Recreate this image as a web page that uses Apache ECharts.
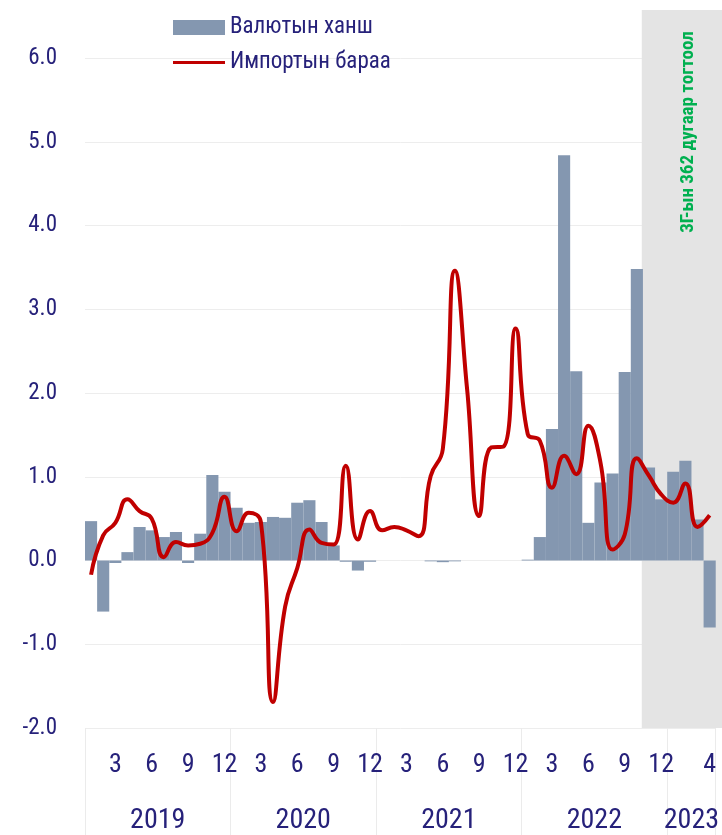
<!DOCTYPE html>
<html>
<head>
<meta charset="utf-8">
<script src="https://cdn.jsdelivr.net/npm/echarts@6/dist/echarts.min.js"></script>
<style>
html,body{margin:0;padding:0;background:#fff;}
#chart{width:722px;height:835px;}
</style>
</head>
<body>
<div id="chart"></div>
<script>
var categories = [
  '2019-01','2019-02','2019-03','2019-04','2019-05','2019-06','2019-07','2019-08','2019-09','2019-10','2019-11','2019-12',
  '2020-01','2020-02','2020-03','2020-04','2020-05','2020-06','2020-07','2020-08','2020-09','2020-10','2020-11','2020-12',
  '2021-01','2021-02','2021-03','2021-04','2021-05','2021-06','2021-07','2021-08','2021-09','2021-10','2021-11','2021-12',
  '2022-01','2022-02','2022-03','2022-04','2022-05','2022-06','2022-07','2022-08','2022-09','2022-10','2022-11','2022-12',
  '2023-01','2023-02','2023-03','2023-04'
];
var monthTickLabels = [
  '', '', '3', '', '', '6', '', '', '9', '', '', '12',
  '', '', '3', '', '', '6', '', '', '9', '', '', '12',
  '', '', '3', '', '', '6', '', '', '9', '', '', '12',
  '', '', '3', '', '', '6', '', '', '9', '', '', '12',
  '', '', '', '4'
];
var currencyRate = [
  0.47, -0.61, -0.03, 0.10, 0.40, 0.36, 0.28, 0.34, -0.03, 0.32, 1.02, 0.82,
  0.63, 0.45, 0.46, 0.52, 0.51, 0.69, 0.72, 0.46, 0.18, -0.015, -0.12, -0.015,
  0.00, 0.00, 0.00, 0.00, -0.01, -0.02, -0.01, 0.00, 0.00, 0.00, 0.00, 0.00,
  0.01, 0.28, 1.57, 4.84, 2.26, 0.45, 0.93, 1.04, 2.25, 3.48, 1.11, 0.73,
  1.06, 1.19, 0.49, -0.80
];
var importGoods = [
  -0.17, 0.30, 0.45, 0.73, 0.59, 0.50, 0.04, 0.22, 0.18, 0.20, 0.33, 0.76,
  0.35, 0.57, 0.46, -1.69, -0.55, -0.09, 0.37, 0.21, 0.19, 1.13, 0.25, 0.59,
  0.36, 0.40, 0.36, 0.29, 1.01, 1.33, 3.46, 2.05, 0.53, 1.35, 1.36, 2.77,
  1.51, 1.43, 0.87, 1.25, 1.03, 1.61, 1.17, 0.13, 0.31, 1.22, 1.01, 0.79,
  0.69, 0.92, 0.40, 0.54
];
var yearLabels = ['2019', '2020', '2021', '2022', '2023'];
var seriesNames = ['Валютын ханш', 'Импортын бараа'];
var noteText = '3Г-ын 362 дугаар тогтоол';
var shadeStart = 45.6;   // month position where the shaded period begins
var yTicks = {min: -2, max: 6, interval: 1};

var FONT = "'Liberation Sans Narrow', 'Roboto Condensed', 'Arial Narrow', Roboto, sans-serif";
var TXT = '#26217A';

function monthOf(c){ return parseInt(c.split('-')[1], 10); }
function yearOf(c){ return c.split('-')[0]; }

// middle index of each year group (label placed there, shifted half a category)
var yearMid = {};
yearLabels.forEach(function(y){
  var idx = [];
  categories.forEach(function(c, i){ if (yearOf(c) === y) idx.push(i); });
  yearMid[idx[0] + Math.floor(idx.length / 2) - 1] = y;
});

var chart = echarts.init(document.getElementById('chart'), null, {renderer: 'canvas'});
var option = {
  animation: false,
  textStyle: {fontFamily: FONT},
  grid: [
    {left: 85, right: 2, top: 58, bottom: 106, containLabel: false},
    {left: 85, right: 0, top: 10, bottom: 107, containLabel: false}
  ],
  legend: {
    orient: 'vertical', left: 173, top: 16, padding: 0,
    itemWidth: 52, itemHeight: 15, itemGap: 12,
    textStyle: {fontSize: 23, color: TXT, fontFamily: FONT},
    data: [
      {name: seriesNames[0], icon: 'rect'},
      {name: seriesNames[1], icon: 'path://M0,0 L0.1,0 Z M0,6 L52,6 L52,9 L0,9 Z M0,15 L0.1,15 Z'}
    ]
  },
  xAxis: [
    {
      type: 'category', gridIndex: 0, data: categories, position: 'bottom',
      axisLine: {show: false}, axisTick: {show: false},
      axisLabel: {
        interval: function(i){ return monthTickLabels[i] !== ''; },
        formatter: function(v, i){ return monthTickLabels[i]; },
        showMaxLabel: true,
        fontSize: 26, color: TXT, margin: 24, fontFamily: FONT
      }
    },
    {
      type: 'category', gridIndex: 0, data: categories, position: 'bottom',
      axisLine: {show: false},
      axisTick: {show: true, length: 110, lineStyle: {color: '#EBEBEB', width: 1},
        interval: function(i, v){ return monthOf(v) === 1; }},
      axisLabel: {
        interval: function(i){ return yearMid[i] !== undefined; },
        formatter: function(v, i){ return yearMid[i] || ''; },
        fontSize: 28, color: TXT, margin: 79, padding: [0, 0, 0, 12], fontFamily: FONT
      }
    },
    {type: 'value', gridIndex: 1, min: 0, max: 52.17, show: false}
  ],
  yAxis: [
    {
      type: 'value', gridIndex: 0, min: yTicks.min, max: yTicks.max, interval: yTicks.interval,
      axisLine: {show: false}, axisTick: {show: false},
      splitLine: {lineStyle: {color: '#EDEDED', width: 1}},
      axisLabel: {formatter: function(v){ return v.toFixed(1); }, fontSize: 23, color: TXT, margin: 28, fontFamily: FONT}
    },
    {type: 'value', gridIndex: 1, min: 0, max: 1, show: false}
  ],
  series: [
    {
      type: 'line', xAxisIndex: 2, yAxisIndex: 1, data: [], silent: true, z: -1,
      markArea: {
        silent: true, itemStyle: {color: '#E4E4E4'},
        data: [[{xAxis: shadeStart, yAxis: 1}, {xAxis: 52.17, yAxis: 0}]]
      }
    },
    {
      name: seriesNames[0], type: 'bar', data: currencyRate,
      barCategoryGap: '0%', itemStyle: {color: '#8497B0'}, z: 2
    },
    {
      name: seriesNames[1], type: 'line', data: importGoods, xAxisIndex: 0,
      smooth: 0.5, symbol: 'none', showSymbol: false, lineStyle: {color: '#C00000', width: 4},
      itemStyle: {color: '#C00000'}, z: 3
    }
  ],
  graphic: [
    {
      type: 'text', x: 688, y: 132, rotation: Math.PI / 2, z: 10,
      style: {text: noteText, fill: '#00B050', font: 'bold 19px ' + FONT,
        align: 'center', verticalAlign: 'middle', textAlign: 'center', textVerticalAlign: 'middle'}
    }
  ]
};
chart.setOption(option);
</script>
</body>
</html>
